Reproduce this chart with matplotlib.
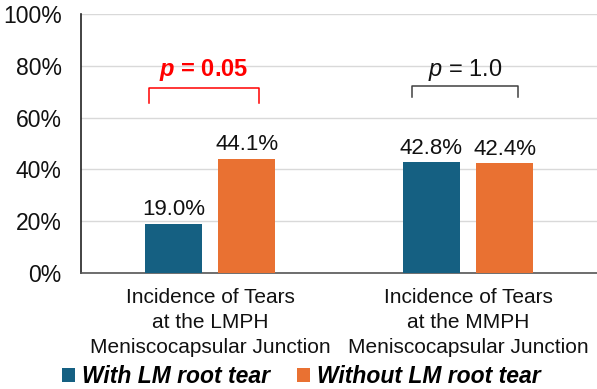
import numpy as np
import matplotlib.pyplot as plt

plt.rcParams['font.family'] = ['Liberation Sans', 'DejaVu Sans']
plt.rcParams['mathtext.fontset'] = 'custom'
plt.rcParams['mathtext.rm'] = 'Liberation Sans'
plt.rcParams['mathtext.it'] = 'Liberation Sans:italic'
plt.rcParams['mathtext.bf'] = 'Liberation Sans:bold'
plt.rcParams['mathtext.bfit'] = 'Liberation Sans:italic:bold'

# data
categories = ["Incidence of Tears\nat the LMPH\nMeniscocapsular Junction",
              "Incidence of Tears\nat the MMPH\nMeniscocapsular Junction"]
with_tear = [19.0, 42.8]
without_tear = [44.1, 42.4]
series_names = ["With LM root tear", "Without LM root tear"]
p_labels = [r"$\mathbfit{p}$ = 0.05", r"$\mathit{p}$ = 1.0"]

blue = '#156082'
orange = '#E97132'

fig = plt.figure(figsize=(5.97, 3.89), dpi=100)
ax = fig.add_axes([0.1357, 0.298, 0.8643, 0.666])

x = np.arange(len(categories))
w = 0.222
off = 0.142
b1 = ax.bar(x - off, with_tear, w, color=blue, label=series_names[0], zorder=3)
b2 = ax.bar(x + off, without_tear, w, color=orange, label=series_names[1], zorder=3)

for bars in (b1, b2):
    for r in bars:
        ax.annotate(f"{r.get_height():.1f}%", (r.get_x() + r.get_width() / 2, r.get_height()),
                    xytext=(0, 2.5), textcoords='offset points', ha='center', va='bottom',
                    fontsize=16, color='#111111')

# significance brackets
brackets = [(-0.237, 0.191, 65.7, 71.5, 'red', True),
            (0.782, 1.195, 67.8, 72.2, '#404040', False)]
for i, (x0, x1, ylo, yhi, col, bold) in enumerate(brackets):
    ax.plot([x0, x0, x1, x1], [ylo, yhi, yhi, ylo], color=col, lw=1.1, zorder=4)
    ax.text((x0 + x1) / 2, 78.3, p_labels[i], ha='center', va='center', fontsize=17,
            color=col if bold else '#111111', fontweight='bold' if bold else 'normal')

ax.set_xlim(-0.5, 1.5)
ax.set_ylim(0, 100)
ax.set_yticks(np.arange(0, 101, 20))
ax.set_yticklabels([f"{v}%" for v in range(0, 101, 20)], fontsize=16.5, color='#111111')
ax.set_xticks(x)
ax.set_xticklabels(categories, fontsize=15, color='#111111', linespacing=1.38)
ax.tick_params(axis='both', length=0)
ax.tick_params(axis='y', pad=14)
ax.tick_params(axis='x', pad=11)

ax.grid(axis='y', color='#d9d9d9', lw=1, zorder=0)
for s in ['top', 'right']:
    ax.spines[s].set_visible(False)
ax.spines['left'].set_color('#222222')
ax.spines['left'].set_linewidth(1.2)
ax.spines['bottom'].set_color('#555555')
ax.spines['bottom'].set_linewidth(1.2)

leg = fig.legend(loc='center', bbox_to_anchor=(0.505, 0.032), ncol=2, frameon=False,
                 handlelength=0.55, handleheight=0.55, handletextpad=0.3, columnspacing=1.2,
                 borderpad=0, borderaxespad=0,
                 prop={'size': 16.5, 'weight': 'bold', 'style': 'italic'})

fig.savefig('out.png', dpi=100)
